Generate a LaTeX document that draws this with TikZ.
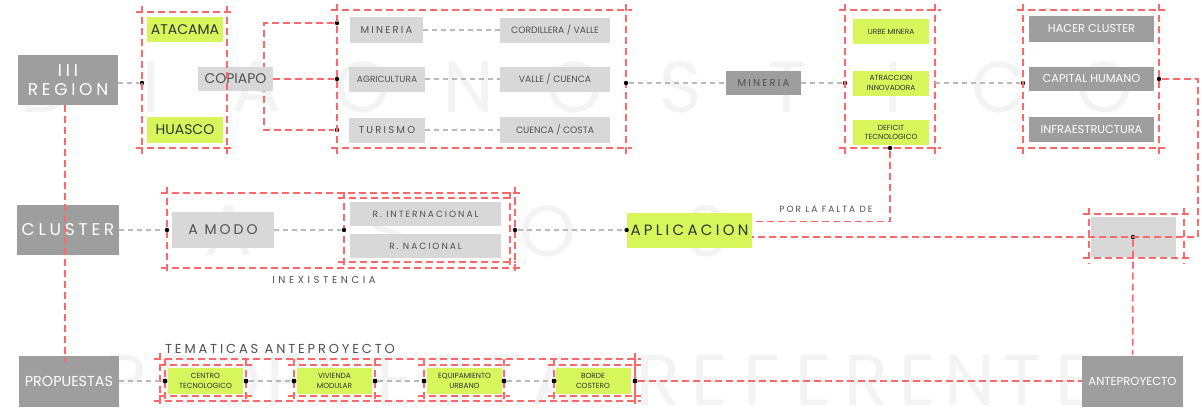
\documentclass[tikz,border=0pt]{standalone}
\usepackage{fontspec}
\setmainfont{Poppins}
\newfontfamily\sep[LetterSpace=22]{Poppins}
\newfontfamily\sepx[LetterSpace=36]{Poppins}

\definecolor{rojo}{RGB}{255,104,104}
\definecolor{grisosc}{RGB}{158,158,158}
\definecolor{grisclaro}{RGB}{216,216,216}
\definecolor{lima}{RGB}{214,246,92}
\definecolor{marca}{RGB}{243,243,243}
\definecolor{grislinea}{RGB}{185,185,185}
\definecolor{tinta}{RGB}{80,80,80}

\tikzset{
  caja/.style={inner sep=0pt, align=center},
  tam/.style 2 args={minimum width=#1*0.5pt, minimum height=#2*0.5pt},
  oscura/.style={caja, fill=grisosc, text=white},
  clara/.style={caja, fill=grisclaro, text=tinta},
  verde/.style={caja, fill=lima, text=black!80},
  punto/.style={circle, fill=black, inner sep=0pt, minimum size=2.2pt},
  rojodash/.style={draw=rojo, line width=0.85pt, dash pattern=on 3.5pt off 2pt},
  grisdash/.style={draw=grislinea, line width=0.7pt, dash pattern=on 2.5pt off 2pt},
  marcolinea/.style={rojodash, shorten <=-3pt, shorten >=-3pt},
  fondo/.style={text=marca, font=\fontsize{36}{36}\selectfont, inner sep=0pt},
  etiqueta/.style={text=tinta, inner sep=0pt},
  chica/.style={font=\fontsize{3.7}{4.7}\selectfont},
  media/.style={font=\fontsize{4.6}{5.5}\selectfont},
  grande/.style={font=\fontsize{5.7}{6.5}\selectfont}
}

% recuadro rojo con esquinas cruzadas
\newcommand\marcorojo[4]{%
  \draw[marcolinea] (#1,#2) -- (#3,#2);
  \draw[marcolinea] (#1,#4) -- (#3,#4);
  \draw[marcolinea] (#1,#2) -- (#1,#4);
  \draw[marcolinea] (#3,#2) -- (#3,#4);}

\begin{document}
\begin{tikzpicture}[x=0.5pt,y=-0.5pt]
  \fill[white] (0,0) rectangle (1202,413);
  \useasboundingbox (0,0) rectangle (1202,413);

  % letras de fondo
  \foreach \l [count=\i from 0] in {D,I,A,G,N,O,S,T,I,C,O}
    \node[fondo] (diag\i) at (45+106*\i,87) {\l};
  \foreach \l [count=\i from 0] in {C,A,S,O,S}
    \node[fondo] (caso\i) at (69+159.5*\i,231) {\l};
  \foreach \l/\px in {P/125,R/179,O/233,P/287,U/341,E/395,S/449,T/503,A/557,
                      R/658,E/710,F/762,E/814,R/866,E/918,N/970,T/1022,E/1074}
    \node[fondo] (ref\px) at (\px,380) {\l};

  % fila 1
  \node[oscura, tam={100}{50}, font=\sep\fontsize{8.5}{9.5}\selectfont] (region) at (68,80) {III\\REGION};
  \node[verde, tam={76}{25}, font=\fontsize{7}{8}\selectfont] (atacama) at (185,29.5) {ATACAMA};
  \node[verde, tam={76}{26}, font=\fontsize{7}{8}\selectfont] (huasco) at (185,130) {HUASCO};
  \node[punto] (d1) at (142,83) {};
  \node[punto] (d2) at (337,23) {};
  \node[punto] (d3) at (337,79) {};
  \node[punto] (d4) at (337,130) {};
  \coordinate (codo) at (264,130);
  \draw[rojodash] (d2) -| (codo) -- (d4);
  \node[clara, tam={75}{24}, font=\fontsize{7}{8}\selectfont] (copiapo) at (235.5,79) {COPIAPO};
  \draw[rojodash] (copiapo) -- (d3);
  \draw[grisdash] (region.east |- d1) -- (d1);
  \marcorojo{142}{12}{227}{148}
  \marcorojo{337}{10}{626}{148}

  \node[clara, tam={73}{26}, font=\sep\fontsize{5}{6}\selectfont] (mineria) at (386.5,30) {MINERIA};
  \node[clara, tam={110}{25}, media] (cordillera) at (555,30) {CORDILLERA / VALLE};
  \node[clara, tam={76}{25}, font=\fontsize{4.5}{5}\selectfont] (agricultura) at (387,79) {AGRICULTURA};
  \node[clara, tam={110}{25}, media] (vallecuenca) at (555,79) {VALLE / CUENCA};
  \node[clara, tam={76}{25}, font=\sep\fontsize{5}{6}\selectfont] (turismo) at (387,130) {TURISMO};
  \node[clara, tam={110}{26}, media] (cuencacosta) at (555,130) {CUENCA / COSTA};
  \draw[grisdash] (mineria) -- (cordillera);
  \draw[grisdash] (agricultura) -- (vallecuenca);
  \draw[grisdash] (turismo) -- (cuencacosta);

  \node[punto] (d5) at (626,83) {};
  \node[oscura, tam={75}{24}, text=tinta, font=\sep\fontsize{5}{6}\selectfont] (mineriab) at (763.5,83) {MINERIA};
  \node[punto] (d6) at (845,83) {};
  \draw[grisdash] (d5) -- (mineriab);
  \draw[grisdash] (mineriab) -- (d6);

  \node[verde, tam={76}{25}, chica] (urbe) at (891,31.5) {URBE MINERA};
  \node[verde, tam={76}{25}, chica] (atraccion) at (891,83) {ATRACCION\\INNOVADORA};
  \node[verde, tam={76}{25}, chica] (deficit) at (891,132.5) {DEFICIT\\TECNOLOGICO};
  \marcorojo{845}{10}{935}{148}
  \node[punto] (d7) at (890,148) {};
  \node[punto] (d8) at (1023,83) {};
  \draw[grisdash, shorten <=3pt] (atraccion) -- (d8);

  \node[oscura, tam={125}{26}, grande] (hacer) at (1091.5,29) {HACER CLUSTER};
  \node[oscura, tam={125}{24}, grande] (capital) at (1091.5,79) {CAPITAL HUMANO};
  \node[oscura, tam={125}{25}, grande] (infra) at (1091.5,129.5) {INFRAESTRUCTURA};
  \marcorojo{1023}{10}{1159}{148}
  \node[punto] (d9) at (1159,79) {};

  % fila 2
  \node[oscura, tam={102}{50}, font=\sep\fontsize{8.5}{9}\selectfont] (cluster) at (68,230) {CLUSTER};
  \node[clara, tam={102}{36}, font=\sep\fontsize{7}{8}\selectfont] (amodo) at (223,230) {A MODO};
  \node[clara, tam={151}{24}, font=\sep\fontsize{4.5}{5}\selectfont] (rinter) at (425.5,214) {R. INTERNACIONAL};
  \node[clara, tam={151}{24}, font=\sep\fontsize{4.5}{5}\selectfont] (rnac) at (425.5,246) {R. NACIONAL};
  \node[verde, tam={125}{35}, font=\sep\fontsize{7.5}{8}\selectfont] (aplicacion) at (689.5,230) {APLICACION};
  \node[clara, tam={85}{40}] (vacio) at (1133,237) {};
  \marcorojo{167}{193}{515}{268}
  \marcorojo{344}{198}{510}{262}
  \marcorojo{1089}{214}{1184}{258}
  \node[punto] (d10) at (167,230) {};
  \node[punto] (d11) at (344,230) {};
  \node[punto] (d12) at (515,230) {};
  \node[punto] (d13) at (aplicacion.west) {};
  \node[punto] (d14) at (vacio.center) {};
  \draw[grisdash] (cluster) -- (d10);
  \draw[grisdash] (amodo) -- (d11);
  \draw[grisdash] (d12) -- (d13);
  \node[etiqueta, font=\sepx\fontsize{5}{5}\selectfont] (inexistencia) at (324,280) {INEXISTENCIA};
  \node[etiqueta, font=\sep\fontsize{4.5}{4.5}\selectfont] (porfalta) at (826,209) {POR LA FALTA DE};

  \draw[rojodash] (d7) |- ([yshift=4.25pt]aplicacion.east);
  \coordinate (esquina) at (1198,237);
  \draw[rojodash] (d9) -| (esquina) -- (aplicacion.east |- esquina);

  % fila 3
  \node[oscura, tam={100}{51}, font=\fontsize{7.2}{8}\selectfont] (propuestas) at (69,381) {PROPUESTAS};
  \node[etiqueta, font=\sep\fontsize{6.5}{6.5}\selectfont] (tematicas) at (280,349) {TEMATICAS ANTEPROYECTO};
  \node[verde, tam={75}{26}, chica] (centro) at (205.5,381) {CENTRO\\TECNOLOGICO};
  \node[verde, tam={75}{26}, chica] (vivienda) at (334.5,381) {VIVIENDA\\MODULAR};
  \node[verde, tam={75}{26}, chica] (equipamiento) at (464.5,381) {EQUIPAMIENTO\\URBANO};
  \node[verde, tam={75}{26}, chica] (bordecostero) at (593,381) {BORDE\\COSTERO};
  \node[oscura, tam={101}{51}, font=\fontsize{5.8}{6.5}\selectfont] (antepro) at (1132.5,381) {ANTEPROYECTO};
  \marcorojo{160}{359}{635}{401}
  \foreach \a/\b in {165/246,294/375,424/504,554/635}
    \marcorojo{\a}{365}{\b}{396}
  \foreach \px [count=\i] in {165,246,294,375,424,504,554,635}
    \node[punto] (e\i) at (\px,381) {};
  \draw[grisdash] (propuestas) -- (e1);
  \draw[grisdash] (e2) -- (e3);
  \draw[grisdash] (e4) -- (e5);
  \draw[grisdash] (e6) -- (e7);
  \draw[rojodash] (e8) -- (antepro);

  % enlaces verticales
  \coordinate (regbase) at ([xshift=-1.5pt]region.south);
  \draw[rojodash, shorten >=-3.5pt] (regbase) -- (regbase |- propuestas.north);
  \draw[rojodash] (d14) -- (antepro);
\end{tikzpicture}
\end{document}
